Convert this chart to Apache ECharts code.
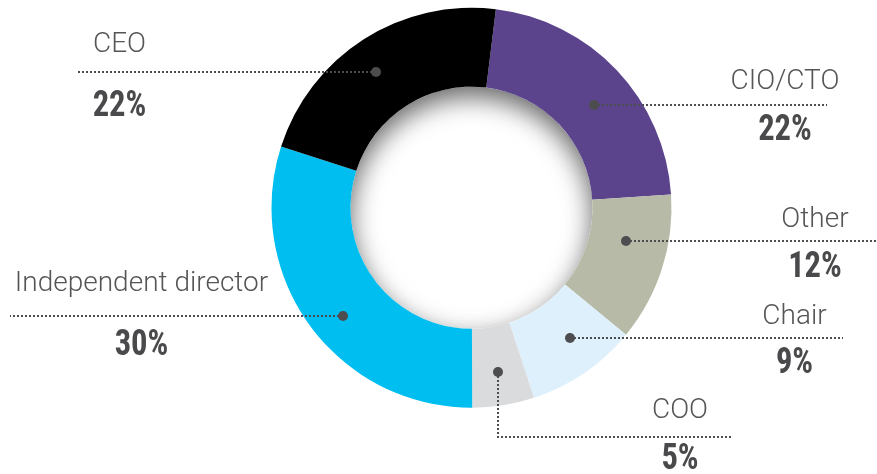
<!DOCTYPE html>
<html><head><meta charset="utf-8">
<script src="https://cdn.jsdelivr.net/npm/echarts@6/dist/echarts.min.js"></script>
<style>html,body{margin:0;padding:0;background:#fff}#c{width:877px;height:474px}</style>
</head><body><div id="c"></div>
<script>
// ---- data ----
const categories = ['CIO/CTO', 'Other', 'Chair', 'COO', 'Independent director', 'CEO'];
const values = [22, 12, 9, 5, 30, 22];
const colors = ['#5b448c', '#b7baa7', '#ddf0fb', '#dadbdd', '#00bef0', '#000000'];

// ---- label layout (pixels / fractions, not data) ----
const dotFrac = [0.543, 0.37, 0.417, 0.51, 0.464, 0.468];
const dotRadius = [160, 158, 163, 166, 168, 166];
const lineEndX = [827, 877, 843, 733, 10, 78];
const lineTurnY = [null, null, null, 437, null, null];
const textCx = [785, 815, 794.5, 680, 141.5, 119.5];
const nameCy = [82, 219.5, 316.5, 411, 284, 45];
const pctCy = [131, 267.5, 364, 459.5, 346, 106.5];

const CX = 471.5, CY = 207.7, R0 = 121, R1 = 200;
const nameFont = '300 28px Roboto, "Open Sans", sans-serif';
const pctFont = 'bold 37px "Liberation Sans Narrow", "Roboto Condensed", Roboto, sans-serif';

const chart = echarts.init(document.getElementById('c'), null, {renderer: 'canvas'});
chart.setOption({
  animation: false,
  backgroundColor: '#fff',
  series: [{
    type: 'pie',
    z: 2,
    center: [CX, CY],
    radius: [R0, R1],
    startAngle: 83,
    clockwise: true,
    padAngle: 0,
    avoidLabelOverlap: false,
    label: {show: false},
    labelLine: {show: false},
    emphasis: {disabled: true},
    itemStyle: {borderWidth: 0, borderRadius: 0},
    data: categories.map((c, i) => ({name: c, value: values[i], itemStyle: {color: colors[i]}}))
  }]
});

// get slice layout from the library
let layouts = [];
try {
  const data = chart.getModel().getSeriesByIndex(0).getData();
  for (let i = 0; i < categories.length; i++) layouts.push(data.getItemLayout(i));
} catch (e) { layouts = []; }
if (!layouts.length || !layouts[0]) {
  const total = values.reduce((a, b) => a + b, 0);
  let a = -83 * Math.PI / 180;
  layouts = values.map(v => {
    const s = a; a += v / total * Math.PI * 2;
    return {cx: CX, cy: CY, r: R1, r0: R0, startAngle: s, endAngle: a};
  });
}

const graphics = [];
graphics.push({
  type: 'ring', z: 0, silent: true,
  shape: {cx: CX, cy: CY, r: R1, r0: R0},
  style: {fill: '#ffffff', shadowBlur: 26, shadowOffsetY: 10, shadowColor: 'rgba(0,0,0,0.6)'}
});
graphics.push({
  type: 'ring', z: 1, silent: true,
  shape: {cx: CX, cy: CY, r: 600, r0: R1 - 0.5},
  style: {fill: '#ffffff'}
});

categories.forEach((name, i) => {
  const L = layouts[i];
  const a = L.startAngle + dotFrac[i] * (L.endAngle - L.startAngle);
  const dx = Math.round(L.cx + dotRadius[i] * Math.cos(a));
  const dy = Math.round(L.cy + dotRadius[i] * Math.sin(a));
  let pts;
  if (lineTurnY[i] != null) {
    pts = [[dx, dy], [dx, lineTurnY[i]], [lineEndX[i], lineTurnY[i]]];
  } else {
    pts = [[dx, dy], [lineEndX[i], dy]];
  }
  graphics.push({
    type: 'polyline', z: 3, silent: true,
    shape: {points: pts},
    style: {stroke: '#4d4d50', lineWidth: 2, lineDash: [2, 2], fill: null}
  });
  graphics.push({
    type: 'circle', z: 4, silent: true,
    shape: {cx: dx, cy: dy, r: 5},
    style: {fill: '#4d4d50'}
  });
  graphics.push({
    type: 'text', z: 5, silent: true, x: textCx[i], y: nameCy[i],
    style: {text: name, font: nameFont, fill: '#555555', align: 'center', verticalAlign: 'middle'}
  });
  graphics.push({
    type: 'text', z: 5, silent: true, x: textCx[i], y: pctCy[i], scaleX: 0.88,
    style: {text: values[i] + '%', font: pctFont, fill: '#4a4a4c', align: 'center', verticalAlign: 'middle'}
  });
});

chart.setOption({graphic: {elements: graphics}});
</script>
</body></html>
